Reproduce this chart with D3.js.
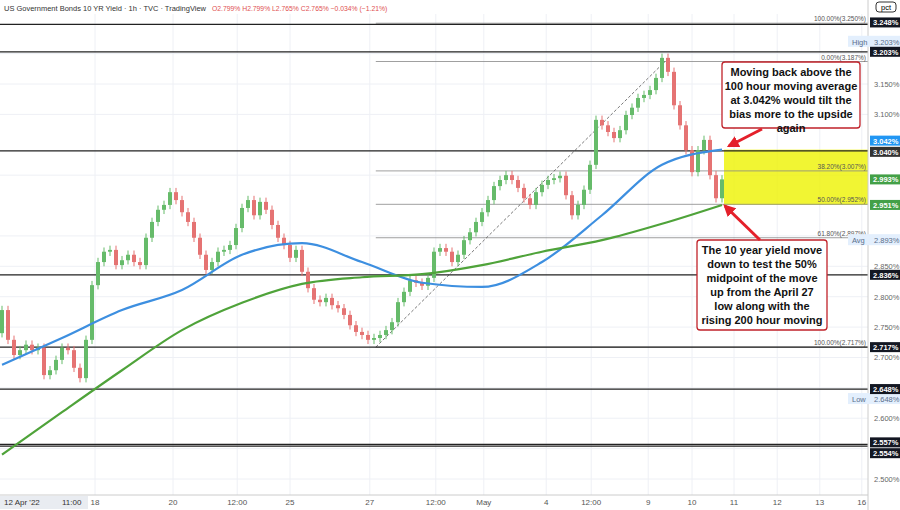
<!DOCTYPE html>
<html><head><meta charset="utf-8">
<script src="https://cdn.jsdelivr.net/npm/d3@7"></script>
<style>body{margin:0;background:#fff;font-family:"Liberation Sans",Arial,sans-serif}</style>
</head><body><div id="chart"></div>
<script>
// hourly closes, US 10Y yield, 12 Apr -> 10 May
var closes = [
  2.778,2.729,2.704,2.712,2.721,2.712,2.716,2.671,2.679,2.696,
  2.716,2.712,2.683,2.666,2.729,2.819,2.857,2.874,2.877,2.852,
  2.860,2.869,2.857,2.852,2.897,2.923,2.943,2.951,2.972,2.959,
  2.939,2.923,2.897,2.869,2.844,2.857,2.874,2.877,2.885,2.913,
  2.946,2.959,2.934,2.956,2.943,2.918,2.897,2.885,2.864,2.877,
  2.841,2.814,2.795,2.791,2.798,2.786,2.781,2.770,2.753,2.742,
  2.737,2.729,2.732,2.737,2.745,2.758,2.791,2.808,2.827,2.823,
  2.818,2.831,2.874,2.880,2.874,2.857,2.869,2.893,2.906,2.923,
  2.939,2.959,2.982,2.992,3.000,2.992,2.979,2.962,2.951,2.972,
  2.984,2.992,2.995,2.999,2.967,2.934,2.951,2.976,3.017,3.091,
  3.082,3.071,3.061,3.074,3.099,3.111,3.127,3.132,3.140,3.160,
  3.193,3.170,3.115,3.082,3.041,3.005,3.041,3.058,3.000,2.962,2.993];
var firstOpen = 2.740;
var wick = 0.007;

// moving averages, sampled every 10 bars
var maIdx  = [0,10,20,30,40,50,60,70,80,90,100,110,120];
var ma100 = [2.688,2.732,2.778,2.811,2.869,2.888,2.857,2.823,2.816,2.857,2.934,3.017,3.042];
var ma200 = [2.540,2.610,2.679,2.745,2.790,2.821,2.832,2.837,2.852,2.874,2.893,2.920,2.951];

var xTicks = [[15.5,"18"],[28.5,"20"],[39.2,"12:00"],[48,"25"],[61.3,"27"],[72.3,"12:00"],[80.3,"May"],
  [90.7,"4"],[98.2,"12:00"],[107.7,"9"],[115,"10"],[122,"11"],[129.2,"12"],[136.3,"13"],[143.3,"16"]];
var yTicks = [3.150,3.100,2.850,2.800,2.750,2.700,2.600,2.500];

// horizontal levels
var levels = [3.248,3.203,3.040,2.836,2.717,2.648,2.557,2.554];
var fibs = [[3.250,"100.00%(3.250%)"],[3.187,"0.00%(3.187%)"],[3.007,"38.20%(3.007%)"],
  [2.952,"50.00%(2.952%)"],[2.897,"61.80%(2.897%)"],[2.717,"100.00%(2.717%)"]];
// value, text, fill, label shift in px
var priceTags = [[3.248,"3.248%","#131722",-2],[3.203,"3.203%","#131722",0],[3.042,"3.042%","#2196f3",-9],
  [3.040,"3.040%","#333",1],[2.993,"2.993%","#43a047",0],[2.951,"2.951%","#43a047",0],
  [2.836,"2.836%","#131722",0],[2.717,"2.717%","#131722",0],[2.648,"2.648%","#131722",0],
  [2.557,"2.557%","#131722",-2],[2.554,"2.554%","#131722",7]];
var infoTags = [[3.203,"High",-10],[2.648,"Low",10],[2.893,"Avg",0]];

var W = 900, H = 510, right = 868, bottom = 495;
var svg = d3.select("#chart").append("svg").attr("width", W).attr("height", H)
  .style("font-family", "'Liberation Sans',Arial,sans-serif");

var x = d3.scaleLinear().domain([0,144]).range([2,866]);
var y = d3.scaleLinear().domain([2.5,3.15]).range([479,84]);

// grid
var g = svg.append("g");
g.selectAll(".vg").data(xTicks).enter().append("line")
  .attr("x1", d => x(d[0])).attr("x2", d => x(d[0])).attr("y1", 14).attr("y2", bottom).attr("stroke", "#eef0f5");
g.selectAll(".hg").data(yTicks.concat([3.0,2.9,3.2,2.65,2.55])).enter().append("line")
  .attr("x1", 0).attr("x2", right).attr("y1", d => y(d)).attr("y2", d => y(d)).attr("stroke", "#eef0f5");

// yellow zone
svg.append("rect").attr("x", 724).attr("y", y(3.042)).attr("width", 146).attr("height", y(2.951) - y(3.042))
  .attr("fill", "#eef200").attr("opacity", 0.8);

// fib lines
var x0 = x(62.3);
svg.selectAll(".fib").data(fibs).enter().append("line")
  .attr("x1", x0).attr("x2", right).attr("y1", d => y(d[0])).attr("y2", d => y(d[0]))
  .attr("stroke", "#888").attr("stroke-width", 0.8);
svg.selectAll(".fibt").data(fibs).enter().append("text")
  .attr("x", 866).attr("y", d => y(d[0]) - 2).attr("text-anchor", "end")
  .attr("font-size", 6.5).attr("fill", "#555").text(d => d[1]);
svg.append("line").attr("x1", x0).attr("y1", y(2.717)).attr("x2", x(110.5)).attr("y2", y(3.187))
  .attr("stroke", "#555").attr("stroke-dasharray", "3,2").attr("stroke-width", 0.8);

// levels
svg.selectAll(".lv").data(levels).enter().append("line")
  .attr("x1", 0).attr("x2", right).attr("y1", d => y(d)).attr("y2", d => y(d))
  .attr("stroke", "#222").attr("stroke-width", 1.3);

// candles
var bars = closes.map(function (c, i) {
  var o = i === 0 ? firstOpen : closes[i - 1];
  return { i: i, o: o, c: c, h: Math.max(o, c) + wick, l: Math.min(o, c) - wick };
});
var cg = svg.append("g");
cg.selectAll("line").data(bars).enter().append("line")
  .attr("x1", d => x(d.i)).attr("x2", d => x(d.i)).attr("y1", d => y(d.h)).attr("y2", d => y(d.l))
  .attr("stroke", d => d.c >= d.o ? "#66bb6a" : "#e57373");
cg.selectAll("rect").data(bars).enter().append("rect")
  .attr("x", d => x(d.i) - 2).attr("width", 4)
  .attr("y", d => y(Math.max(d.o, d.c))).attr("height", d => Math.max(1, Math.abs(y(d.o) - y(d.c))))
  .attr("fill", d => d.c >= d.o ? "#66bb6a" : "#e57373");

// moving averages
var line = d3.line().x(d => x(d[0])).y(d => y(d[1])).curve(d3.curveMonotoneX);
svg.append("path").datum(maIdx.map((v, k) => [v, ma100[k]])).attr("d", line)
  .attr("fill", "none").attr("stroke", "#3d8fe0").attr("stroke-width", 2.2);
svg.append("path").datum(maIdx.map((v, k) => [v, ma200[k]])).attr("d", line)
  .attr("fill", "none").attr("stroke", "#4fa33a").attr("stroke-width", 2.2);

// right axis
svg.append("rect").attr("x", right).attr("y", 0).attr("width", W - right).attr("height", H).attr("fill", "#fff");
svg.append("line").attr("x1", right).attr("x2", right).attr("y1", 0).attr("y2", H).attr("stroke", "#ccc");
svg.append("line").attr("x1", 0).attr("x2", right).attr("y1", bottom).attr("y2", bottom).attr("stroke", "#ccc");
svg.selectAll(".yt").data(yTicks).enter().append("text")
  .attr("x", 874).attr("y", d => y(d) + 3).attr("font-size", 7.5).attr("fill", "#666")
  .text(d => d.toFixed(3) + "%");
infoTags.forEach(function (t) {
  var ty = y(t[0]) + t[2];
  svg.append("rect").attr("x", 848).attr("y", ty - 6).attr("width", 52).attr("height", 11).attr("fill", "#e3effd");
  svg.append("text").attr("x", 852).attr("y", ty + 3).attr("font-size", 7.5).attr("fill", "#5a6e8a").text(t[1]);
  svg.append("text").attr("x", 874).attr("y", ty + 3).attr("font-size", 7.5).attr("fill", "#5a6e8a").text(t[0].toFixed(3) + "%");
});
svg.selectAll(".pt").data(priceTags).enter().append("rect")
  .attr("x", 870).attr("y", d => y(d[0]) + d[3] - 5).attr("width", 30).attr("height", 10).attr("fill", d => d[2]);
svg.selectAll(".ptt").data(priceTags).enter().append("text")
  .attr("x", 873).attr("y", d => y(d[0]) + d[3] + 3).attr("font-size", 7.5).attr("font-weight", "bold")
  .attr("fill", "#fff").text(d => d[1]);
svg.append("rect").attr("x", 876).attr("y", 2).attr("width", 20).attr("height", 10).attr("rx", 3)
  .attr("fill", "#fff").attr("stroke", "#333");
svg.append("text").attr("x", 886).attr("y", 10).attr("text-anchor", "middle").attr("font-size", 7.5).text("pct");

// x labels
svg.selectAll(".xt").data(xTicks).enter().append("text")
  .attr("x", d => x(d[0])).attr("y", 505).attr("text-anchor", "middle").attr("font-size", 8).attr("fill", "#555")
  .text(d => d[1]);
svg.append("rect").attr("x", 0).attr("y", 496).attr("width", 88).attr("height", 13).attr("fill", "#e9ecf1");
svg.append("text").attr("x", 4).attr("y", 505).attr("font-size", 8).attr("fill", "#333").text("12 Apr '22");
svg.append("text").attr("x", 62).attr("y", 505).attr("font-size", 8).attr("fill", "#333").text("11:00");

// title
svg.append("text").attr("x", 4).attr("y", 11).attr("font-size", 8).attr("fill", "#333")
  .attr("textLength", 202).attr("lengthAdjust", "spacingAndGlyphs")
  .text("US Government Bonds 10 YR Yield · 1h · TVC · TradingView");
svg.append("text").attr("x", 212).attr("y", 11).attr("font-size", 6.8).attr("fill", "#e05050")
  .text("O2.799% H2.799% L2.765% C2.765% −0.034% (−1.21%)");

// annotations
function note(bx, by, bw, bh, lines) {
  svg.append("rect").attr("x", bx).attr("y", by).attr("width", bw).attr("height", bh).attr("rx", 3)
    .attr("fill", "#fff").attr("stroke", "#c0222a").attr("stroke-width", 1.3);
  svg.append("text").attr("x", bx + bw / 2).attr("y", by + 14).attr("text-anchor", "middle")
    .attr("font-size", 11).attr("font-weight", "bold").attr("fill", "#111")
    .selectAll("tspan").data(lines).enter().append("tspan")
    .attr("x", bx + bw / 2).attr("dy", (d, i) => i ? 14 : 0).text(d => d);
}
note(722, 62, 138, 66, ["Moving back above the", "100 hour moving average", "at 3.042% would tilt the", "bias more to the upside", "again"]);
note(697, 240, 130, 90, ["The 10 year yield move", "down to test the 50%", "midpoint of the move", "up from the April 27", "low along with the", "rising 200 hour moving"]);

svg.append("defs").append("marker").attr("id", "ar").attr("viewBox", "0 0 10 10").attr("refX", 8).attr("refY", 5)
  .attr("markerWidth", 4).attr("markerHeight", 4).attr("orient", "auto")
  .append("path").attr("d", "M0,0L10,5L0,10z").attr("fill", "#e4202a");
svg.append("line").attr("x1", 762).attr("y1", 129).attr("x2", 729).attr("y2", 146)
  .attr("stroke", "#e4202a").attr("stroke-width", 3).attr("marker-end", "url(#ar)");
svg.append("line").attr("x1", 760).attr("y1", 240).attr("x2", 725).attr("y2", 206)
  .attr("stroke", "#e4202a").attr("stroke-width", 3).attr("marker-end", "url(#ar)");
</script></body></html>
